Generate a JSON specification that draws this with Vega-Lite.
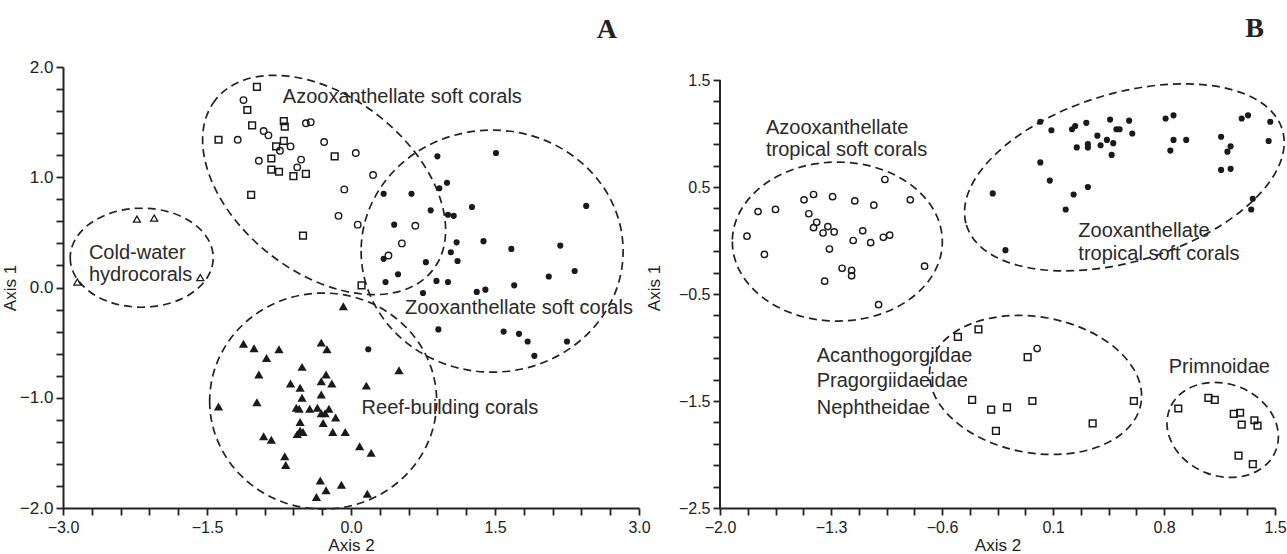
{
  "$schema": "https://vega.github.io/schema/vega-lite/v6.json",
  "padding": {"left": 1, "top": 15, "right": 0, "bottom": 0},
  "background": "white",
  "spacing": -6,
  "config": {
    "view": {"stroke": null},
    "axis": {"domainColor": "#222", "domainWidth": 2, "tickColor": "#222", "tickWidth": 1.8, "tickSize": 7, "labelColor": "#222", "titleColor": "#222", "labelFont": "Liberation Sans", "titleFont": "Liberation Sans", "titleFontWeight": "normal", "grid": false, "labelPadding": 3, "labelFlush": false, "labelOverlap": false, "labelFontSize": 16, "titleFontSize": 17},
    "text": {"font": "Liberation Sans", "fontSize": 20, "color": "#2a2a2a", "align": "left", "baseline": "alphabetic"}
  },
  "datasets": {
    "A_sq": [{"x":-0.98,"y":1.82},{"x":-1.08,"y":1.61},{"x":-1.03,"y":1.47},{"x":-0.70,"y":1.51},{"x":-0.69,"y":1.46},{"x":-1.38,"y":1.34},{"x":-0.70,"y":1.33},{"x":-0.78,"y":1.28},{"x":-0.83,"y":1.17},{"x":-0.83,"y":1.07},{"x":-0.75,"y":1.05},{"x":-0.60,"y":1.01},{"x":-0.47,"y":1.03},{"x":-0.17,"y":1.19},{"x":-1.04,"y":0.84},{"x":-0.50,"y":0.47},{"x":0.11,"y":0.02}],
    "A_ci": [{"x":-1.12,"y":1.70},{"x":-0.91,"y":1.42},{"x":-0.86,"y":1.38},{"x":-1.18,"y":1.34},{"x":-0.74,"y":1.24},{"x":-0.63,"y":1.28},{"x":-0.47,"y":1.49},{"x":-0.42,"y":1.50},{"x":-0.28,"y":1.32},{"x":-0.96,"y":1.15},{"x":-0.52,"y":1.16},{"x":-0.56,"y":1.09},{"x":0.05,"y":1.22},{"x":0.23,"y":1.02},{"x":-0.07,"y":0.89},{"x":-0.13,"y":0.65},{"x":0.07,"y":0.57},{"x":0.67,"y":0.56},{"x":0.53,"y":0.40},{"x":0.39,"y":0.29}],
    "A_fc": [{"x":0.90,"y":1.19},{"x":1.51,"y":1.22},{"x":1.00,"y":0.95},{"x":0.92,"y":0.90},{"x":0.34,"y":0.85},{"x":0.63,"y":0.85},{"x":0.83,"y":0.70},{"x":1.26,"y":0.73},{"x":1.01,"y":0.66},{"x":1.07,"y":0.65},{"x":2.45,"y":0.74},{"x":0.45,"y":0.57},{"x":1.10,"y":0.41},{"x":1.38,"y":0.42},{"x":1.67,"y":0.35},{"x":2.18,"y":0.38},{"x":1.04,"y":0.32},{"x":1.11,"y":0.24},{"x":0.34,"y":0.26},{"x":0.78,"y":0.23},{"x":2.33,"y":0.15},{"x":2.06,"y":0.10},{"x":0.49,"y":0.12},{"x":0.36,"y":0.05},{"x":0.89,"y":0.06},{"x":1.01,"y":0.05},{"x":1.70,"y":0.02},{"x":0.75,"y":-0.05},{"x":1.31,"y":-0.04},{"x":1.40,"y":-0.02},{"x":0.91,"y":-0.38},{"x":1.59,"y":-0.40},{"x":1.75,"y":-0.42},{"x":1.84,"y":-0.49},{"x":2.25,"y":-0.49},{"x":1.91,"y":-0.62},{"x":0.18,"y":-0.56}],
    "A_tr": [{"x":-1.12,"y":-0.51},{"x":-1.01,"y":-0.55},{"x":-0.75,"y":-0.56},{"x":-0.88,"y":-0.64},{"x":-0.31,"y":-0.50},{"x":-0.25,"y":-0.56},{"x":-0.51,"y":-0.72},{"x":-0.96,"y":-0.79},{"x":-0.26,"y":-0.79},{"x":-0.63,"y":-0.87},{"x":-0.53,"y":-0.91},{"x":-0.31,"y":-0.85},{"x":-0.20,"y":-0.87},{"x":0.16,"y":-0.89},{"x":-0.31,"y":-0.97},{"x":-0.51,"y":-1.00},{"x":-1.38,"y":-1.08},{"x":-0.98,"y":-1.04},{"x":-0.57,"y":-1.09},{"x":-0.54,"y":-1.10},{"x":-0.43,"y":-1.10},{"x":-0.35,"y":-1.09},{"x":-0.31,"y":-1.14},{"x":-0.27,"y":-1.14},{"x":-0.23,"y":-1.10},{"x":-0.16,"y":-1.18},{"x":-0.53,"y":-1.22},{"x":-0.29,"y":-1.23},{"x":-0.53,"y":-1.30},{"x":-0.56,"y":-1.33},{"x":-0.50,"y":-1.31},{"x":-0.19,"y":-1.31},{"x":-0.06,"y":-1.31},{"x":-0.91,"y":-1.35},{"x":-0.83,"y":-1.38},{"x":0.09,"y":-1.44},{"x":0.21,"y":-1.50},{"x":-0.69,"y":-1.53},{"x":-0.68,"y":-1.61},{"x":-0.32,"y":-1.75},{"x":-0.10,"y":-1.79},{"x":-0.26,"y":-1.84},{"x":-0.36,"y":-1.90},{"x":0.17,"y":-1.87},{"x":-0.08,"y":-0.17},{"x":0.50,"y":-0.75}],
    "A_ot": [{"x":-2.23,"y":0.62},{"x":-2.05,"y":0.63},{"x":-1.57,"y":0.09},{"x":-2.85,"y":0.05}],
    "A_txt": [{"label":"Azooxanthellate soft corals","x":-0.71,"y":1.67},{"label":"Cold-water","x":-2.73,"y":0.26},{"label":"hydrocorals","x":-2.73,"y":0.06},{"label":"Zooxanthellate soft corals","x":0.5625,"y":-0.24},{"label":"Reef-building corals","x":0.11,"y":-1.15}],
    "B_ci": [{"x":-0.96,"y":0.57},{"x":-1.41,"y":0.43},{"x":-1.29,"y":0.41},{"x":-1.47,"y":0.38},{"x":-1.15,"y":0.37},{"x":-1.03,"y":0.33},{"x":-0.80,"y":0.38},{"x":-1.76,"y":0.27},{"x":-1.65,"y":0.29},{"x":-1.44,"y":0.25},{"x":-1.39,"y":0.17},{"x":-1.41,"y":0.12},{"x":-1.32,"y":0.13},{"x":-1.35,"y":0.07},{"x":-1.28,"y":0.08},{"x":-1.10,"y":0.09},{"x":-1.16,"y":0.00},{"x":-1.05,"y":-0.02},{"x":-0.97,"y":0.03},{"x":-0.93,"y":0.05},{"x":-1.83,"y":0.04},{"x":-1.72,"y":-0.13},{"x":-1.31,"y":-0.08},{"x":-1.23,"y":-0.26},{"x":-1.17,"y":-0.28},{"x":-1.17,"y":-0.33},{"x":-1.34,"y":-0.38},{"x":-0.71,"y":-0.24},{"x":-1.00,"y":-0.60},{"x":0.00,"y":-1.01}],
    "B_fc": [{"x":0.02,"y":1.11},{"x":0.09,"y":1.03},{"x":0.22,"y":1.04},{"x":0.24,"y":1.07},{"x":0.31,"y":1.10},{"x":0.46,"y":1.13},{"x":0.58,"y":1.12},{"x":0.50,"y":1.04},{"x":0.52,"y":1.04},{"x":0.60,"y":1.00},{"x":0.38,"y":0.98},{"x":0.44,"y":0.94},{"x":0.48,"y":0.91},{"x":0.40,"y":0.89},{"x":0.32,"y":0.90},{"x":0.32,"y":0.87},{"x":0.25,"y":0.87},{"x":0.47,"y":0.80},{"x":0.81,"y":1.14},{"x":0.86,"y":1.17},{"x":0.86,"y":0.94},{"x":0.94,"y":0.94},{"x":0.84,"y":0.84},{"x":1.16,"y":0.97},{"x":1.22,"y":0.88},{"x":1.20,"y":0.83},{"x":1.16,"y":0.66},{"x":1.22,"y":0.67},{"x":1.29,"y":1.14},{"x":1.33,"y":1.17},{"x":1.47,"y":1.11},{"x":1.46,"y":0.93},{"x":1.36,"y":0.39},{"x":1.35,"y":0.29},{"x":0.02,"y":0.73},{"x":0.08,"y":0.56},{"x":0.32,"y":0.50},{"x":0.23,"y":0.43},{"x":0.18,"y":0.29},{"x":-0.28,"y":0.44},{"x":-0.20,"y":-0.09}],
    "B_sq": [{"x":-0.50,"y":-0.90},{"x":-0.37,"y":-0.83},{"x":-0.06,"y":-1.09},{"x":-0.41,"y":-1.49},{"x":-0.29,"y":-1.58},{"x":-0.19,"y":-1.56},{"x":-0.03,"y":-1.50},{"x":-0.26,"y":-1.78},{"x":0.35,"y":-1.71},{"x":0.61,"y":-1.50},{"x":0.89,"y":-1.57},{"x":1.08,"y":-1.47},{"x":1.12,"y":-1.49},{"x":1.24,"y":-1.62},{"x":1.28,"y":-1.61},{"x":1.29,"y":-1.72},{"x":1.37,"y":-1.68},{"x":1.39,"y":-1.73},{"x":1.27,"y":-2.01},{"x":1.36,"y":-2.09}],
    "B_txt": [{"label":"Azooxanthellate","x":-1.71,"y":0.995},{"label":"tropical soft corals","x":-1.71,"y":0.79},{"label":"Zooxanthellate","x":0.26,"y":0.03},{"label":"tropical soft corals","x":0.26,"y":-0.18},{"label":"Acanthogorgiidae","x":-1.39,"y":-1.14},{"label":"Pragorgiidaeidae","x":-1.39,"y":-1.37},{"label":"Nephtheidae","x":-1.39,"y":-1.62},{"label":"Primnoidae","x":0.83,"y":-1.24}]
  },
  "hconcat": [
    {
      "width": 576,
      "height": 441,
      "title": {"text": "A", "anchor": "end", "frame": "group", "font": "Liberation Serif", "fontSize": 28, "fontWeight": "bold", "color": "#222", "dx": -22, "offset": 14},
      "encoding": {
        "x": {"field": "x", "type": "quantitative", "scale": {"domain": [-3, 3], "nice": false, "zero": false},
          "axis": {"title": "Axis 2", "values": [-3,-2.7,-2.4,-2.1,-1.8,-1.5,-1.2,-0.9,-0.6,-0.3,0,0.3,0.6,0.9,1.2,1.5,1.8,2.1,2.4,2.7,3], "labelExpr": "abs(datum.value/1.5 - round(datum.value/1.5)) < 0.001 ? format(datum.value, '.1f') : ''", "titlePadding": 2, "labelPadding": 4}},
        "y": {"field": "y", "type": "quantitative", "scale": {"domain": [-2, 2], "nice": false, "zero": false},
          "axis": {"title": "Axis 1", "values": [-2,-1.8,-1.6,-1.4,-1.2,-1,-0.8,-0.6,-0.4,-0.2,0,0.2,0.4,0.6,0.8,1,1.2,1.4,1.6,1.8,2], "labelExpr": "abs(datum.value - round(datum.value)) < 0.001 ? format(datum.value, '.1f') : ''", "labelFontSize": 17, "titlePadding": 0}}
      },
      "layer": [
        {"data": {"values": [{"x": -2.18, "y": 0.27}]}, "mark": {"type": "point", "shape": "M -71.5 0 A 71.5 49.5 0 1 0 71.5 0 A 71.5 49.5 0 1 0 -71.5 0 Z", "size": 4, "filled": false, "stroke": "#222", "strokeWidth": 1.7, "strokeDash": [8, 5], "opacity": 1}},
        {"data": {"values": [{"x": -0.28, "y": 0.93}]}, "mark": {"type": "point", "shape": "M -138 0 A 138 88 0 1 0 138 0 A 138 88 0 1 0 -138 0 Z", "size": 4, "angle": 38, "filled": false, "stroke": "#222", "strokeWidth": 1.7, "strokeDash": [8, 5], "opacity": 1}},
        {"data": {"values": [{"x": 1.47, "y": 0.33}]}, "mark": {"type": "point", "shape": "M -131 0 A 131 121 0 1 0 131 0 A 131 121 0 1 0 -131 0 Z", "size": 4, "filled": false, "stroke": "#222", "strokeWidth": 1.7, "strokeDash": [8, 5], "opacity": 1}},
        {"data": {"values": [{"x": -0.29, "y": -1.03}]}, "mark": {"type": "point", "shape": "M -113.5 0 A 113.5 108 0 1 0 113.5 0 A 113.5 108 0 1 0 -113.5 0 Z", "size": 4, "filled": false, "stroke": "#222", "strokeWidth": 1.7, "strokeDash": [8, 5], "opacity": 1}},
        {"data": {"name": "A_sq"}, "mark": {"type": "point", "shape": "square", "size": 45, "filled": false, "stroke": "#1a1a1a", "strokeWidth": 1.5, "opacity": 1}},
        {"data": {"name": "A_ci"}, "mark": {"type": "point", "shape": "circle", "size": 42, "filled": false, "stroke": "#1a1a1a", "strokeWidth": 1.4, "opacity": 1}},
        {"data": {"name": "A_fc"}, "mark": {"type": "point", "shape": "circle", "size": 38, "filled": true, "fill": "#1a1a1a", "opacity": 1}},
        {"data": {"name": "A_tr"}, "mark": {"type": "point", "shape": "triangle-up", "size": 85, "filled": true, "fill": "#1a1a1a", "opacity": 1}},
        {"data": {"name": "A_ot"}, "mark": {"type": "point", "shape": "triangle-up", "size": 50, "filled": false, "stroke": "#1a1a1a", "strokeWidth": 1.3, "opacity": 1}},
        {"data": {"name": "A_txt"}, "mark": {"type": "text"}, "encoding": {"text": {"field": "label"}}}
      ]
    },
    {
      "width": 555,
      "height": 441,
      "title": {"text": "B", "anchor": "end", "frame": "group", "font": "Liberation Serif", "fontSize": 28, "fontWeight": "bold", "color": "#222", "dx": -11, "offset": 24},
      "encoding": {
        "x": {"field": "x", "type": "quantitative", "scale": {"domain": [-2, 1.5], "nice": false, "zero": false},
          "axis": {"title": "Axis 2", "values": [-2,-1.825,-1.65,-1.475,-1.3,-1.125,-0.95,-0.775,-0.6,-0.425,-0.25,-0.075,0.1,0.275,0.45,0.625,0.8,0.975,1.15,1.325,1.5], "labelExpr": "abs((datum.value+2)/0.7 - round((datum.value+2)/0.7)) < 0.001 ? format(datum.value, '.1f') : ''", "titlePadding": 2, "labelPadding": 4}},
        "y": {"field": "y", "type": "quantitative", "scale": {"domain": [-2.5, 1.6215], "nice": false, "zero": false},
          "axis": {"title": "Axis 1", "domain": false, "values": [-2.5,-2.3,-2.1,-1.9,-1.7,-1.5,-1.3,-1.1,-0.9,-0.7,-0.5,-0.3,-0.1,0.1,0.3,0.5,0.7,0.9,1.1,1.3,1.5], "labelExpr": "abs((datum.value+2.5) - round(datum.value+2.5)) < 0.001 ? format(datum.value, '.1f') : ''", "titlePadding": 15}}
      },
      "layer": [
        {"data": {"values": [{"x": -2, "y": -2.5, "y2": 1.5}]}, "mark": {"type": "rule", "stroke": "#222", "strokeWidth": 2}, "encoding": {"y2": {"field": "y2"}}},
        {"data": {"values": [{"x": -1.26, "y": -0.01}]}, "mark": {"type": "point", "shape": "M -105 0 A 105 79.5 0 1 0 105 0 A 105 79.5 0 1 0 -105 0 Z", "size": 4, "filled": false, "stroke": "#222", "strokeWidth": 1.7, "strokeDash": [8, 5], "opacity": 1}},
        {"data": {"values": [{"x": 0.55, "y": 0.59}]}, "mark": {"type": "point", "shape": "M -165 0 A 165 84 0 1 0 165 0 A 165 84 0 1 0 -165 0 Z", "size": 4, "angle": -16.8, "filled": false, "stroke": "#222", "strokeWidth": 1.7, "strokeDash": [8, 5], "opacity": 1}},
        {"data": {"values": [{"x": -0.01, "y": -1.35}]}, "mark": {"type": "point", "shape": "M -107 0 A 107 68 0 1 0 107 0 A 107 68 0 1 0 -107 0 Z", "size": 4, "angle": 10, "filled": false, "stroke": "#222", "strokeWidth": 1.7, "strokeDash": [8, 5], "opacity": 1}},
        {"data": {"values": [{"x": 1.17, "y": -1.77}]}, "mark": {"type": "point", "shape": "M -57 0 A 57 46 0 1 0 57 0 A 57 46 0 1 0 -57 0 Z", "size": 4, "angle": 21, "filled": false, "stroke": "#222", "strokeWidth": 1.7, "strokeDash": [8, 5], "opacity": 1}},
        {"data": {"name": "B_ci"}, "mark": {"type": "point", "shape": "circle", "size": 40, "filled": false, "stroke": "#1a1a1a", "strokeWidth": 1.4, "opacity": 1}},
        {"data": {"name": "B_fc"}, "mark": {"type": "point", "shape": "circle", "size": 38, "filled": true, "fill": "#1a1a1a", "opacity": 1}},
        {"data": {"name": "B_sq"}, "mark": {"type": "point", "shape": "square", "size": 45, "filled": false, "stroke": "#1a1a1a", "strokeWidth": 1.5, "opacity": 1}},
        {"data": {"name": "B_txt"}, "mark": {"type": "text"}, "encoding": {"text": {"field": "label"}}}
      ]
    }
  ]
}
